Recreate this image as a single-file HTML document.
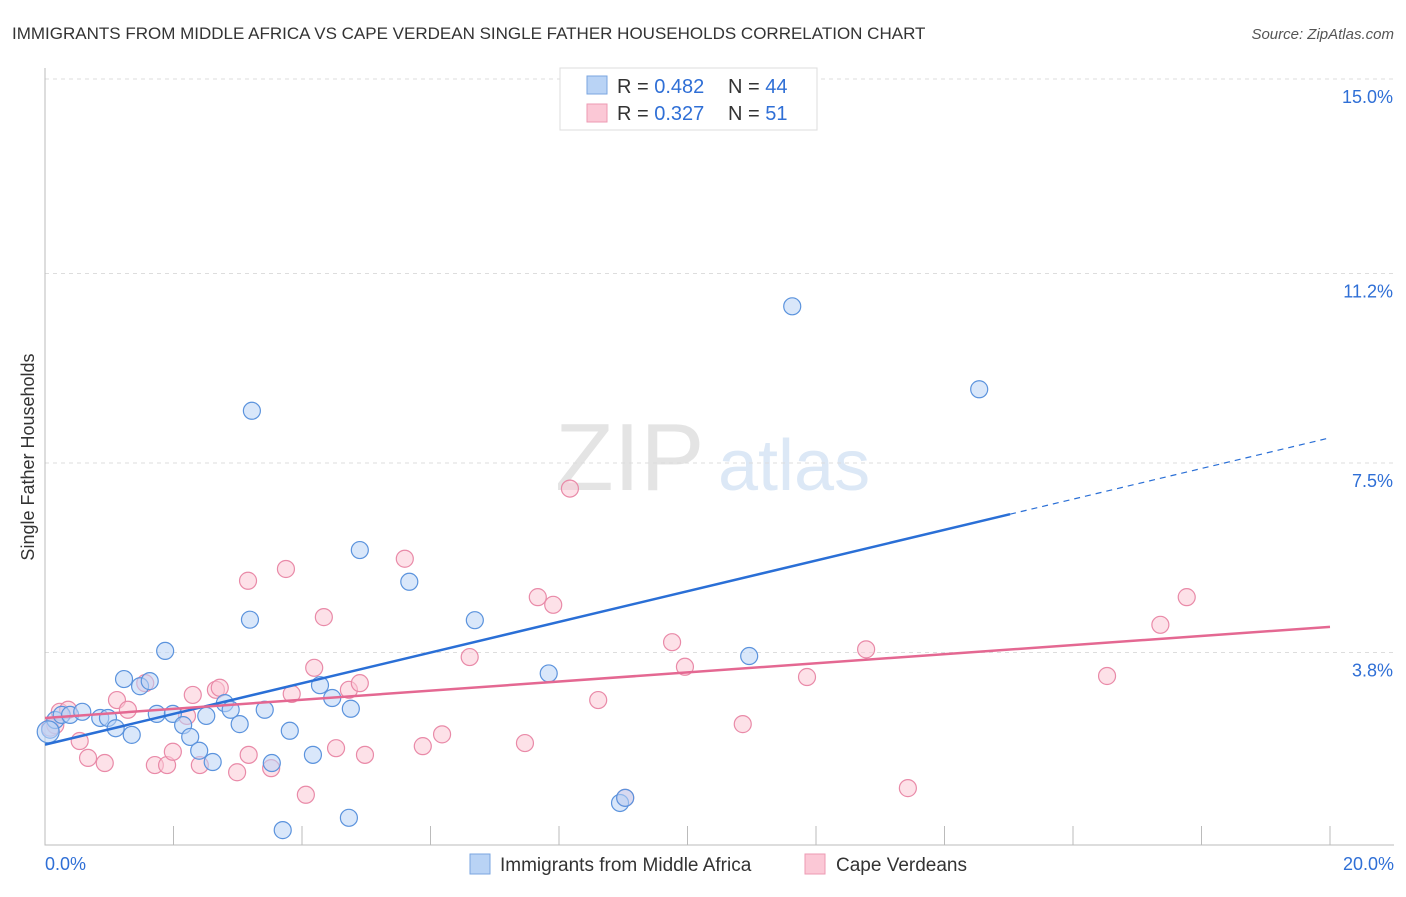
<!DOCTYPE html>
<html><head><meta charset="utf-8"><style>
body{margin:0;background:#fff;font-family:"Liberation Sans",sans-serif;}
svg text{font-family:"Liberation Sans",sans-serif;}
</style></head><body>
<svg id="chart" width="1406" height="892" xmlns="http://www.w3.org/2000/svg">
<text x="12" y="39" font-size="17" fill="#333">IMMIGRANTS FROM MIDDLE AFRICA VS CAPE VERDEAN SINGLE FATHER HOUSEHOLDS CORRELATION CHART</text>
<text x="1394" y="39" font-size="15" fill="#555" font-style="italic" text-anchor="end">Source: ZipAtlas.com</text>
<text transform="translate(34,457) rotate(-90)" font-size="18" fill="#333" text-anchor="middle">Single Father Households</text>
<text x="555" y="490" font-size="96" fill="#e4e4e4" font-family="Liberation Serif">ZIP</text>
<text x="718" y="490" font-size="72" fill="#dce8f6">atlas</text>
<g id="grid"></g>
<g id="axes"></g>
<g id="pts"></g>
<g id="lines"></g>
<g>
<rect x="560" y="68" width="257" height="62" fill="#fff" stroke="#ddd"/>
<rect x="587" y="76" width="20" height="18" fill="#b9d3f5" stroke="#7aa6e0"/>
<text x="617" y="93" font-size="20" fill="#333">R = <tspan fill="#2f6fd6">0.482</tspan></text>
<text x="728" y="93" font-size="20" fill="#333">N = <tspan fill="#2f6fd6">44</tspan></text>
<rect x="587" y="104" width="20" height="18" fill="#fbc8d6" stroke="#ec9ab3"/>
<text x="617" y="120" font-size="20" fill="#333">R = <tspan fill="#2f6fd6"> 0.327</tspan></text>
<text x="728" y="120" font-size="20" fill="#333">N = <tspan fill="#2f6fd6"> 51</tspan></text>
</g>
<g>
<rect x="470" y="854" width="20" height="20" fill="#b9d3f5" stroke="#7aa6e0"/>
<text x="500" y="871" font-size="19" fill="#333">Immigrants from Middle Africa</text>
<rect x="805" y="854" width="20" height="20" fill="#fbc8d6" stroke="#ec9ab3"/>
<text x="836" y="871" font-size="19" fill="#333">Cape Verdeans</text>
</g>
</svg>
<script>
const yTicks=[3.8,7.5,11.2,15.0];
const yTickLabels=["3.8%","7.5%","11.2%","15.0%"];
const xTicks=[0,2,4,6,8,10,12,14,16,18,20];
const blueX=[0.08,0.16,0.26,0.39,0.58,0.86,0.98,1.1,1.23,1.35,1.48,1.63,1.74,1.87,1.99,2.15,2.26,2.4,2.51,2.61,2.8,2.89,3.03,3.22,3.19,3.42,3.53,3.7,3.81,4.17,4.28,4.47,4.73,4.76,4.9,5.67,6.69,7.84,8.95,9.03,10.96,11.63,14.54,0.05];
const blueY=[2.29,2.48,2.58,2.58,2.64,2.52,2.52,2.32,3.28,2.19,3.14,3.24,2.6,3.83,2.6,2.38,2.15,1.88,2.56,1.66,2.81,2.68,2.4,8.52,4.44,2.68,1.64,0.33,2.27,1.8,3.16,2.91,0.57,2.7,5.8,5.18,4.43,3.39,0.86,0.96,3.73,10.56,8.94,2.25];
const pinkX=[0.08,0.16,0.23,0.36,0.54,0.67,0.93,1.12,1.29,1.56,1.71,1.9,1.99,2.21,2.3,2.41,2.66,2.72,2.99,3.16,3.17,3.52,3.75,3.84,4.06,4.19,4.34,4.53,4.73,4.9,4.98,5.6,5.88,6.18,6.61,7.47,7.67,7.91,8.17,8.61,9.03,9.76,9.96,10.86,11.86,12.78,13.43,16.53,17.36,17.77];
const pinkY=[2.33,2.38,2.64,2.68,2.07,1.74,1.64,2.87,2.68,3.2,1.6,1.6,1.86,2.56,2.97,1.6,3.07,3.11,1.46,5.2,1.8,1.54,5.43,2.99,1.02,3.5,4.49,1.93,3.07,3.2,1.8,5.63,1.97,2.2,3.71,2.03,4.88,4.73,7.0,2.87,0.96,4.0,3.52,2.4,3.32,3.86,1.15,3.34,4.34,4.88];
const blueFit=[2.0,6.5], pinkFit=[2.52,4.3];
const NS="http://www.w3.org/2000/svg";
const X=v=>45+v*64.25, Y=v=>847-v*51.2;
function mk(tag,attrs,parent){const e=document.createElementNS(NS,tag);for(const k in attrs)e.setAttribute(k,attrs[k]);parent.appendChild(e);return e;}
const grid=document.getElementById('grid'),axes=document.getElementById('axes'),pts=document.getElementById('pts'),lines=document.getElementById('lines');
yTicks.forEach((t,i)=>{
 const l=mk('line',{x1:45,x2:1394,y1:Y(t),y2:Y(t),stroke:'#ddd','stroke-dasharray':'4,4'},grid);
 
 
 const tx=mk('text',{x:1393,y:Y(t)+24,'font-size':18,fill:'#2f6fd6','text-anchor':'end'},axes);
 tx.textContent=yTickLabels[i];
 
 
});
const ax=mk('path',{d:`M45 68 V845 H1394`,stroke:'#bbb',fill:'none'},axes);


xTicks.forEach(t=>{
 const l=mk('line',{x1:X(t),x2:X(t),y1:826,y2:845,stroke:'#bbb'},axes);
 
 
});
const x0=mk('text',{x:45,y:870,'font-size':18,fill:'#2f6fd6'},axes);x0.textContent='0.0%';


const x1=mk('text',{x:1394,y:870,'font-size':18,fill:'#2f6fd6','text-anchor':'end'},axes);x1.textContent='20.0%';


function dots(xs,ys,fill,stroke,name){xs.forEach((x,i)=>{const c=mk('circle',{cx:X(x),cy:Y(ys[i]),r:i==xs.length-1&&name=='blue-point'?11:8.5,fill,stroke,'fill-opacity':0.55,'stroke-width':1.2},pts);
 
 });}
dots(pinkX,pinkY,'#fbc8d6','#e98aa8','pink-point');
dots(blueX,blueY,'#b9d3f5','#5b93dd','blue-point');
const bxEnd=15.02;
const bAt=v=>blueFit[0]+(blueFit[1]-blueFit[0])*v/bxEnd;
const bl=mk('line',{x1:X(0),y1:Y(blueFit[0]),x2:X(bxEnd),y2:Y(blueFit[1]),stroke:'#2a6fd6','stroke-width':2.5},lines);


const bd=mk('line',{x1:X(bxEnd),y1:Y(blueFit[1]),x2:X(20),y2:Y(bAt(20)),stroke:'#2a6fd6','stroke-width':1.2,'stroke-dasharray':'6,5'},lines);


const pl=mk('line',{x1:X(0),y1:Y(pinkFit[0]),x2:X(20),y2:Y(pinkFit[1]),stroke:'#e46892','stroke-width':2.5},lines);


</script>
</body></html>
